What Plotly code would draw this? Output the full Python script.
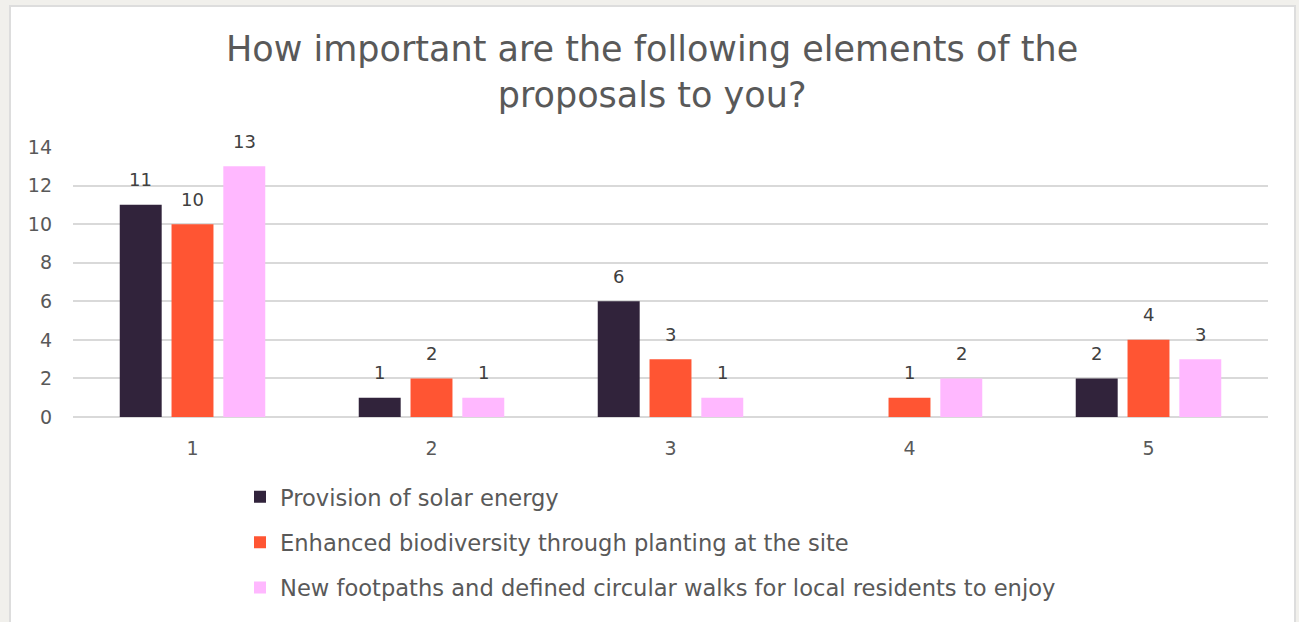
import plotly.graph_objects as go

categories = ["1", "2", "3", "4", "5"]
series_names = [
    "Provision of solar energy",
    "Enhanced biodiversity through planting at the site",
    "New footpaths and defined circular walks for local residents to enjoy",
]
solar = [11, 1, 6, None, 2]
biodiversity = [10, 2, 3, 1, 4]
footpaths = [13, 1, 1, 2, 3]
colors = ["#31233B", "#FF5533", "#FFB8FF"]
y_ticks = [0, 2, 4, 6, 8, 10, 12, 14]

W, H = 1299, 622
L, R, T, B = 73, 31, 147, 203
pw, ph = W - L - R, H - T - B

def px_x(x):
    return (x - L) / pw

def px_y(y):
    return (H - B - y) / ph

FONT = "DejaVu Sans"
BARGAP, GROUPGAP = 0.35, 0.19
slot = pw / len(categories) * (1 - BARGAP) / 3

fig = go.Figure()
series = [solar, biodiversity, footpaths]
for i, (name, vals) in enumerate(zip(series_names, series)):
    fig.add_trace(go.Bar(
        x=categories, y=vals, name=name,
        marker=dict(color=colors[i], line=dict(width=0)),
        legendgroup=f"g{i}",
    ))

annotations = []
for i, vals in enumerate(series):
    for ci, v in enumerate(vals):
        if v is None:
            continue
        annotations.append(dict(
            x=ci, y=v, xref="x", yref="y", text=str(v), showarrow=False,
            xshift=(i - 1) * slot, yshift=25, yanchor="middle",
            font=dict(family=FONT, size=18, color="#404040"),
        ))

fig.update_layout(
    width=W, height=H,
    margin=dict(l=L, r=R, t=T, b=B),
    paper_bgcolor="#F1F0EC", plot_bgcolor="white",
    barmode="group", bargap=BARGAP, bargroupgap=GROUPGAP,
    title=dict(
        text="How important are the following elements of the<br>proposals to you?",
        x=0.502, xref="container", xanchor="center",
        y=1 - 61 / H, yref="container", yanchor="middle",
        font=dict(family=FONT, size=35, color="#595959"),
    ),
    xaxis=dict(type="category", showgrid=False, showline=False, ticks="",
               tickfont=dict(family=FONT, size=19, color="#595959"),
               ticklabelstandoff=18),
    yaxis=dict(range=[0, 14], tickvals=y_ticks, showgrid=True, gridcolor="#D9D9D9",
               gridwidth=2, zeroline=True, zerolinecolor="#D9D9D9", zerolinewidth=2,
               tickfont=dict(family=FONT, size=19, color="#595959"), ticks="",
               ticklabelstandoff=20),
    legend=dict(
        orientation="v", x=px_x(240), xanchor="left", y=px_y(478), yanchor="top",
        font=dict(family=FONT, size=22.6, color="#595959"),
        tracegroupgap=13, itemwidth=30, bgcolor="rgba(0,0,0,0)",
    ),
    annotations=annotations,
    shapes=[dict(
        type="rect", xref="paper", yref="paper",
        x0=px_x(10), x1=px_x(1295), y0=px_y(640), y1=px_y(5),
        fillcolor="white", line=dict(color="#DDDDDD", width=2), layer="below",
    )],
)
fig.write_html("out.html", config={"displayModeBar": False},
               post_script="document.body.style.margin='0';")
